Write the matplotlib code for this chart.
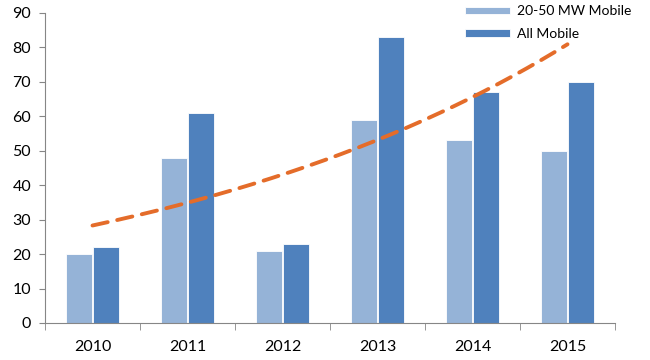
import numpy as np
import matplotlib
matplotlib.use("Agg")
import matplotlib.pyplot as plt

years = ["2010", "2011", "2012", "2013", "2014", "2015"]
mobile_20_50 = [20, 48, 21, 59, 53, 50]
all_mobile = [22, 61, 23, 83, 67, 70]
series_labels = ["20-50 MW Mobile", "All Mobile"]

plt.rcParams['font.family'] = ['Lato', 'DejaVu Sans']

fig = plt.figure(figsize=(6.5, 3.6), dpi=100)
ax = fig.add_axes([45/650, 37/360, 570/650, 310/360])

x = np.arange(len(years))
w = 0.275
light = "#95B3D7"
dark = "#4F81BD"
ax.bar(x - w/2 - 0.005, mobile_20_50, width=w, color=light, edgecolor="white", linewidth=0.6, label=series_labels[0])
ax.bar(x + w/2 + 0.005, all_mobile, width=w, color=dark, edgecolor="white", linewidth=0.6, label=series_labels[1])

# Exponential trendline on All Mobile
xi = x + 1
coef = np.polyfit(xi, np.log(all_mobile), 1)
xt = np.linspace(1, 6, 200)
yt = np.exp(np.polyval(coef, xt))
line, = ax.plot(xt - 1, yt, color="#E46C2A", linewidth=2.8)
line.set_dashes([4.0, 2.5])
line.set_dash_capstyle("round")

ax.set_xlim(-0.5, len(years) - 0.5)
ax.set_ylim(0, 90)
ax.set_yticks(np.arange(0, 91, 10))
ax.tick_params(axis='y', labelsize=11.5, length=4, color="#868686", pad=6)
ax.set_xticks(x)
ax.set_xticklabels(years, fontsize=11.5)
ax.set_xticks(np.arange(-0.5, len(years)), minor=True)
ax.tick_params(axis='x', which='major', length=0, pad=12)
ax.tick_params(axis='x', which='minor', length=5, color="#868686")

for s in ["top", "right"]:
    ax.spines[s].set_visible(False)
for s in ["left", "bottom"]:
    ax.spines[s].set_color("#868686")

leg = ax.legend(loc="upper right", bbox_to_anchor=(1.05, 1.065), frameon=False, fontsize=10,
                handlelength=3.2, handleheight=0.45, labelspacing=0.75, handletextpad=0.5)

fig.savefig("out.png", dpi=100)
